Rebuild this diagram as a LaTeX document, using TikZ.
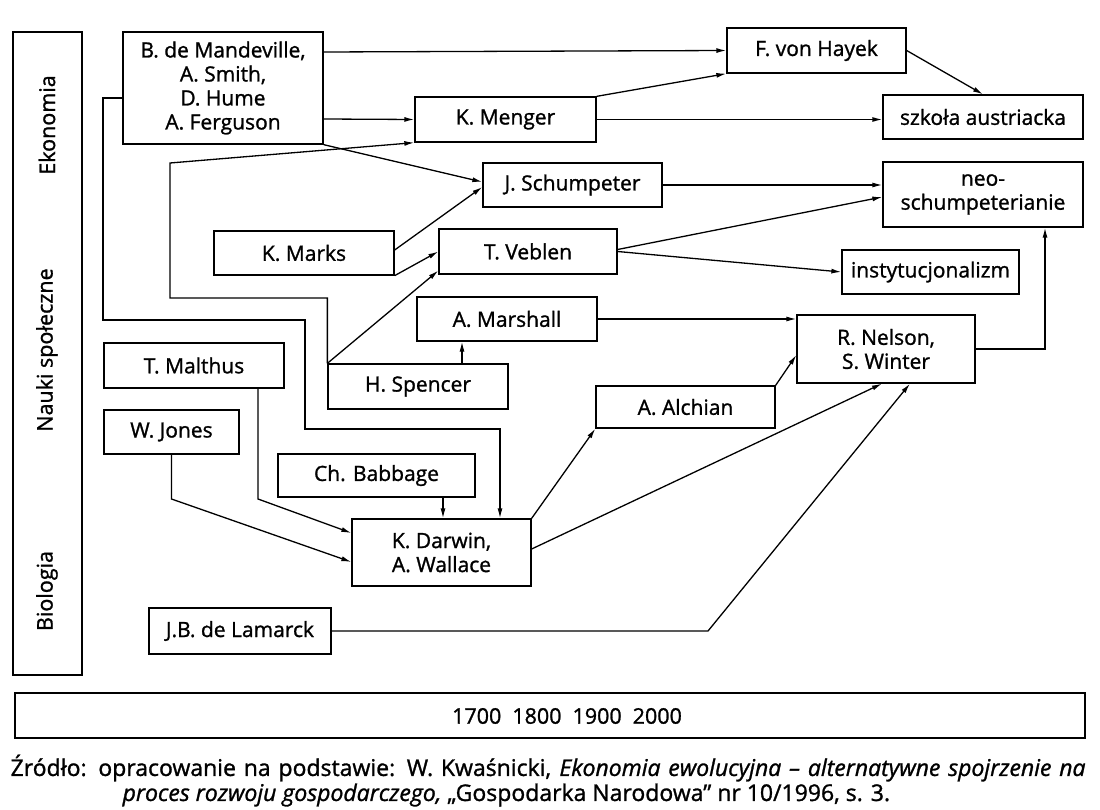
\documentclass[tikz,border=0pt]{standalone}
\usepackage{fontspec}
\setmainfont{Open Sans}
\newfontfamily\boxfont{Open Sans}[FakeBold=1.2]
\usetikzlibrary{arrows.meta}

\begin{document}
\begin{tikzpicture}[x=1pt, y=-1pt, line width=1.3pt, >={Latex[length=10pt,width=5pt]},
	box/.style={draw, rectangle, align=center, inner sep=0pt, font=\boxfont\fontsize{21}{24}\selectfont},
	side label/.style={rotate=90, font=\boxfont\fontsize{21.5}{24}\selectfont},
	plain text/.style={font=\boxfont\fontsize{23}{26}\selectfont, inner sep=0pt}]
	\useasboundingbox (0,0) rectangle (1100,810);
	% fields column
	\node[box, minimum width=69, minimum height=643] (fields) at (47.5,353.5) {};
	\node[side label] (ekon) at (47,125) {Ekonomia};
	\node[side label] (nauki) at (47,350) {Nauki społeczne};
	\node[side label] (bio) at (47,591) {Biologia};
	% people and schools
	\node[box, minimum width=200, minimum height=112] (mand) at (223,88) {B. de Mandeville,\\A. Smith,\\D. Hume\\A. Ferguson};
	\node[box, minimum width=179, minimum height=45] (hayek) at (816.5,50.5) {F. von Hayek};
	\node[box, minimum width=181, minimum height=45] (menger) at (505.5,119.5) {K. Menger};
	\node[box, minimum width=200, minimum height=44] (austr) at (983,117) {szkoła austriacka};
	\node[box, minimum width=179, minimum height=44] (schump) at (572.5,185) {J. Schumpeter};
	\node[box, minimum width=200, minimum height=65] (neo) at (983,194.5) {neo-\\schumpeterianie};
	\node[box, minimum width=180, minimum height=44] (marks) at (304,253) {K. Marks};
	\node[box, minimum width=178, minimum height=45] (veblen) at (528,251.5) {T. Veblen};
	\node[box, minimum width=177, minimum height=44] (inst) at (930.5,272) {instytucjonalizm};
	\node[box, minimum width=180, minimum height=44] (marshall) at (507,319) {A. Marshall};
	\node[box, minimum width=180, minimum height=45] (spencer) at (418,386.5) {H. Spencer};
	\node[box, minimum width=180, minimum height=45] (malthus) at (194,365.5) {T. Malthus};
	\node[box, minimum width=135, minimum height=44] (jones) at (171.5,432) {W. Jones};
	\node[box, minimum width=197, minimum height=43] (babbage) at (376.5,475.5) {Ch. Babbage};
	\node[box, minimum width=179, minimum height=67] (darwin) at (441.5,552.5) {K. Darwin,\\A. Wallace};
	\node[box, minimum width=182, minimum height=46] (lamarck) at (240,631) {J.B. de Lamarck};
	\node[box, minimum width=179, minimum height=42] (alchian) at (685.5,407) {A. Alchian};
	\node[box, minimum width=178, minimum height=68] (nelson) at (886,349) {R. Nelson,\\S. Winter};
	% time axis and source
	\node[box, minimum width=1070, minimum height=45] (timeline) at (550,715.5) {};
	\node[plain text, font=\boxfont\fontsize{21.5}{24}\selectfont] (years) at (567,716) {1700\hspace{11pt}1800\hspace{11pt}1900\hspace{11pt}2000};
	\node[plain text, anchor=west] (src1) at (10,768) {\makebox[1075pt][s]{Źródło: opracowanie na podstawie: W. Kwaśnicki, \textit{Ekonomia ewolucyjna – alternatywne spojrzenie na}}};
	\node[plain text, anchor=west] (src2) at (122,795) {\textit{proces rozwoju gospodarczego,} „Gospodarka Narodowa” nr 10/1996, s. 3.};
	% bend points
	\coordinate (b1) at (103,320);
	\coordinate (b2) at (305,429);
	\coordinate (b3) at (170,298);
	\coordinate (b4) at (170,163);
	\coordinate (m1) at (258,499);
	\coordinate (l1) at (708,631);
	% straight links
	\path[->]
		([yshift=36]mand.east) edge (hayek.west)
		([yshift=-31]mand.east) edge (menger.west)
		(mand.south east) edge ([yshift=3]schump.west)
		([yshift=3]marks.east) edge ([yshift=-2]schump.west)
		(marks.south east) edge (veblen.west)
		(spencer.north west) edge ([yshift=4]veblen.south west)
		([xshift=44]spencer.north) edge ([xshift=44]spencer.north |- marshall.south)
		(menger.north east) edge (hayek.south west)
		(menger.east) edge (menger.east -| austr.west)
		(hayek.east) edge (austr.north)
		(schump.east) edge (schump.east -| neo.west)
		([yshift=2]veblen.east) edge ([yshift=-2.5]neo.west)
		(veblen.east) edge (inst.west)
		(marshall.east) edge (marshall.east -| nelson.west)
		(darwin.north east) edge (alchian.south west)
		([yshift=3.5]darwin.east) edge ([xshift=-4]nelson.south)
		(alchian.north east) edge ([yshift=-6]nelson.west);
	% routed links
	\draw[->] ([yshift=-10]mand.west) -| (b1) -| (b2) -| ([xshift=58.5]darwin.north);
	\draw[->] (spencer.north west) |- (b3) -- (b4) -- (menger.south west);
	\draw[->] ([xshift=64]malthus.south) -- (m1) -- ([yshift=19.5]darwin.west);
	\draw[->] (jones.south) -- (jones.south |- m1) -- ([yshift=-9.5]darwin.west);
	\draw[->] ([xshift=66.5]babbage.south) -- ([xshift=66.5]babbage.south |- darwin.north);
	\draw[->] (lamarck.east) -- (l1) -- ([xshift=24]nelson.south);
	\draw[->] (nelson.east) -| ([xshift=62]neo.south);
\end{tikzpicture}
\end{document}
